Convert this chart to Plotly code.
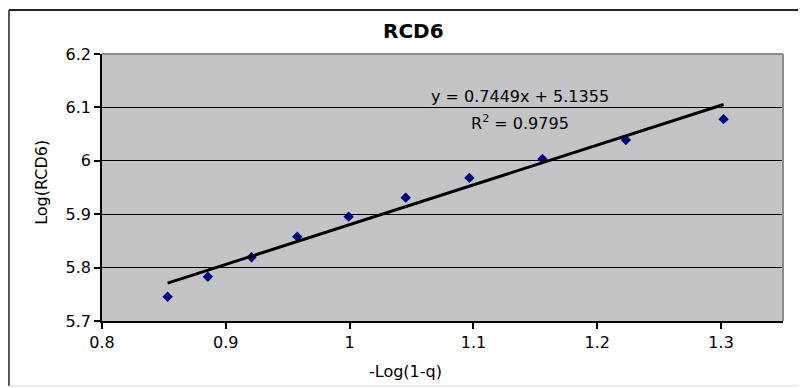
import plotly.graph_objects as go

# Data
x_vals = [0.853, 0.8855, 0.9208, 0.9577, 0.9992, 1.0453, 1.0967, 1.1557, 1.2231, 1.302]
y_vals = [5.7455, 5.783, 5.8193, 5.858, 5.8954, 5.931, 5.968, 6.0034, 6.039, 6.078]

slope = 0.7449
intercept = 5.1355
r2 = 0.9795

x_tickvals = [0.8, 0.9, 1.0, 1.1, 1.2, 1.3]
x_ticktext = ["0.8", "0.9", "1", "1.1", "1.2", "1.3"]
y_tickvals = [5.7, 5.8, 5.9, 6.0, 6.1, 6.2]
y_ticktext = ["5.7", "5.8", "5.9", "6", "6.1", "6.2"]

FONT = "DejaVu Sans, Liberation Sans, Arial, sans-serif"

fig = go.Figure()

x_line = [min(x_vals), max(x_vals)]
y_line = [slope * v + intercept for v in x_line]

fig.add_trace(go.Scatter(
    x=x_vals, y=y_vals, mode="markers",
    marker=dict(symbol="diamond", size=8, color="#000080"),
    showlegend=False, hoverinfo="skip"))

fig.add_trace(go.Scatter(
    x=x_line, y=y_line, mode="lines",
    line=dict(color="black", width=3),
    showlegend=False, hoverinfo="skip"))

fig.update_layout(
    width=798, height=380,
    margin=dict(l=94, r=23, t=46, b=67),
    paper_bgcolor="white",
    plot_bgcolor="#C4C3C6",
    font=dict(family=FONT, color="black", size=16),
    xaxis=dict(
        range=[0.8, 1.35], tickvals=x_tickvals, ticktext=x_ticktext,
        showgrid=False, zeroline=False, showline=True, linecolor="black", linewidth=1.5,
        ticks="outside", ticklen=6, tickcolor="black", tickwidth=1.5,
        tickfont=dict(family=FONT, size=16), fixedrange=True),
    yaxis=dict(
        range=[5.7, 6.2], tickvals=y_tickvals, ticktext=y_ticktext,
        showgrid=True, gridcolor="black", gridwidth=1,
        zeroline=False, showline=True, linecolor="black", linewidth=1.5,
        ticks="outside", ticklen=6, tickcolor="black", tickwidth=1.5,
        tickfont=dict(family=FONT, size=16), fixedrange=True),
    shapes=[
        # plot-area border (top and right, gray)
        dict(type="line", xref="paper", yref="paper", x0=0, x1=1, y0=1, y1=1,
             line=dict(color="#8C8C8C", width=2), layer="above"),
        dict(type="line", xref="paper", yref="paper", x0=1, x1=1, y0=0, y1=1,
             line=dict(color="#8C8C8C", width=2), layer="above"),
        # outer chart border
        dict(type="line", xref="paper", yref="paper", x0=-0.1366, x1=1.05, y0=1.1648, y1=1.1648,
             line=dict(color="#222222", width=2), layer="above"),
        dict(type="line", xref="paper", yref="paper", x0=-0.1366, x1=-0.1366, y0=-0.2434, y1=1.1648,
             line=dict(color="#222222", width=1.5), layer="above"),
        dict(type="line", xref="paper", yref="paper", x0=-0.1366, x1=1.05, y0=-0.2434, y1=-0.2434,
             line=dict(color="#DDDDDD", width=1), layer="above"),
    ],
    annotations=[
        dict(text="<b>RCD6</b>", xref="paper", yref="paper", x=0.4577, y=1.086,
             showarrow=False, font=dict(family=FONT, size=20), xanchor="center", yanchor="middle"),
        dict(text="-Log(1-q)", xref="paper", yref="paper", x=0.446, y=-0.191,
             showarrow=False, font=dict(family=FONT, size=16), xanchor="center", yanchor="middle"),
        dict(text="Log(RCD6)", xref="paper", yref="paper", x=-0.09, y=0.52, textangle=-90,
             showarrow=False, font=dict(family=FONT, size=16), xanchor="center", yanchor="middle"),
        dict(text=f"y = {slope}x + {intercept}", xref="x", yref="y", x=1.1377, y=6.1195,
             showarrow=False, font=dict(family=FONT, size=16), xanchor="center", yanchor="middle"),
        dict(text=f"R<sup>2</sup> = {r2}", xref="x", yref="y", x=1.1377, y=6.0708,
             showarrow=False, font=dict(family=FONT, size=16), xanchor="center", yanchor="middle"),
    ],
)

fig.write_html("out.html")
